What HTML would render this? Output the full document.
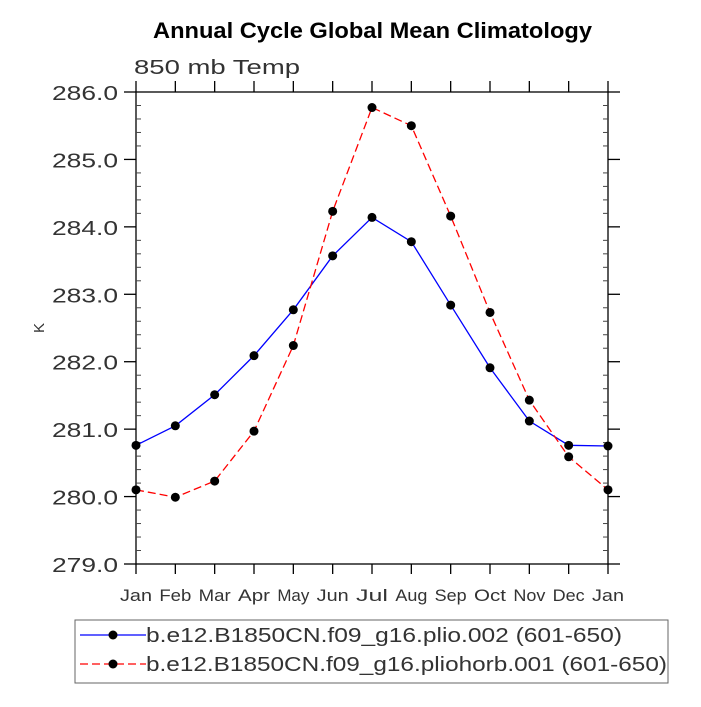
<!DOCTYPE html>
<html><head><meta charset="utf-8"><style>
body{margin:0;background:#fff;width:701px;height:702px;overflow:hidden}
text{font-family:"Liberation Sans","DejaVu Sans",sans-serif}
</style></head><body>
<svg id="chart" width="701" height="702" xmlns="http://www.w3.org/2000/svg">
<text x="153" y="38" font-size="22" font-weight="bold" textLength="439" lengthAdjust="spacingAndGlyphs">Annual Cycle Global Mean Climatology</text>
<text x="134" y="74" font-size="20" fill="#333" textLength="166" lengthAdjust="spacingAndGlyphs">850 mb Temp</text>
<text x="44" y="328" font-size="15" fill="#333" transform="rotate(-90 44 328)" text-anchor="middle">K</text>
<g id="axes"></g><g id="series"></g>
<g>
<rect x="75" y="620" width="593" height="63" fill="none" stroke="#666" stroke-width="1"/>
<line x1="80" y1="635" x2="146" y2="635" stroke="#0000ff" stroke-width="1.3"/>
<circle cx="113" cy="635" r="4.5" fill="#000"/>
<text x="146" y="642" font-size="20" fill="#333" textLength="476" lengthAdjust="spacingAndGlyphs">b.e12.B1850CN.f09_g16.plio.002 (601-650)</text>
<line x1="80" y1="664" x2="146" y2="664" stroke="#ff0000" stroke-width="1.3" stroke-dasharray="8,4"/>
<circle cx="113" cy="664" r="4.5" fill="#000"/>
<text x="146" y="671" font-size="20" fill="#333" textLength="521" lengthAdjust="spacingAndGlyphs">b.e12.B1850CN.f09_g16.pliohorb.001 (601-650)</text>
</g>
</svg>
<script>
const months=["Jan","Feb","Mar","Apr","May","Jun","Jul","Aug","Sep","Oct","Nov","Dec","Jan"];
const plioValues=[280.76,281.05,281.51,282.09,282.77,283.57,284.14,283.78,282.84,281.91,281.12,280.76,280.75];
const pliohorbValues=[280.10,279.99,280.23,280.97,282.24,284.23,285.77,285.50,284.16,282.73,281.43,280.59,280.10];
const yTicks=[279,280,281,282,283,284,285,286];
const NS="http://www.w3.org/2000/svg";
const L=136,R=608,T=92,B=564,ymin=279,ymax=286;
const xs=i=>L+(R-L)*i/(months.length-1);
const ys=v=>B-(v-ymin)/(ymax-ymin)*(B-T);
function mk(tag,attrs,parent){const e=document.createElementNS(NS,tag);for(const k in attrs)e.setAttribute(k,attrs[k]);parent.appendChild(e);return e;}
const ax=document.getElementById('axes');
const frame=mk('rect',{x:L,y:T,width:R-L,height:B-T,fill:'none',stroke:'#000','stroke-width':1.3},ax);


for(let v=ymin;v<=ymax+1e-9;v+=0.2){
  const y=ys(v);const major=Math.abs(v-Math.round(v))<1e-6;
  if(major){mk('line',{x1:L-12,y1:y,x2:L,y2:y,stroke:'#000','stroke-width':1.3},ax);mk('line',{x1:R,y1:y,x2:R+12,y2:y,stroke:'#000','stroke-width':1.3},ax);}
  else{mk('line',{x1:L,y1:y,x2:L+5,y2:y,stroke:'#444'},ax);mk('line',{x1:R-5,y1:y,x2:R,y2:y,stroke:'#444'},ax);}
}
yTicks.forEach(v=>{const t=mk('text',{x:L-18,y:ys(v)+8,'text-anchor':'end','font-size':20,fill:'#333',textLength:66,lengthAdjust:'spacingAndGlyphs'},ax);t.textContent=v.toFixed(1);

});
months.forEach((m,i)=>{const x=xs(i);
  mk('line',{x1:x,y1:B,x2:x,y2:B+10,stroke:'#000','stroke-width':1.3},ax);
  mk('line',{x1:x,y1:T-11,x2:x,y2:T,stroke:'#000','stroke-width':1.3},ax);
  const t=mk('text',{x:x-16,y:B+37,'font-size':17,fill:'#333',textLength:32,lengthAdjust:'spacingAndGlyphs'},ax);t.textContent=m;
  
  });
const sg=document.getElementById('series');
function draw(vals,color,dash,name){
  const p=mk('polyline',{points:vals.map((v,i)=>xs(i)+','+ys(v)).join(' '),fill:'none',stroke:color,'stroke-width':1.3,'stroke-dasharray':dash},sg);
  
  
  vals.forEach((v,i)=>{const c=mk('circle',{cx:xs(i),cy:ys(v),r:4.5,fill:'#000'},sg);
    
    });
}
draw(plioValues,'#0000ff','none','plio');
draw(pliohorbValues,'#ff0000','8,4','pliohorb');
</script>
</body></html>
